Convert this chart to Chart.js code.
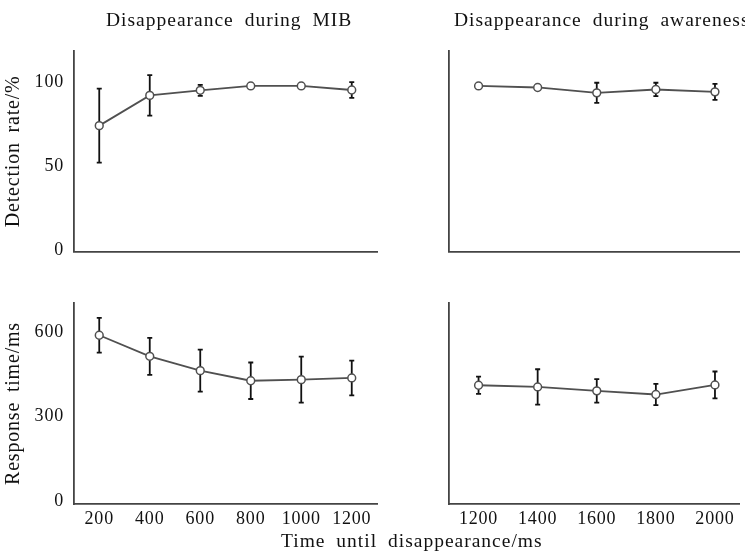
<!DOCTYPE html>
<html>
<head>
<meta charset="utf-8">
<script src="https://cdn.jsdelivr.net/npm/chart.js@4.4.1/dist/chart.umd.min.js"></script>
<style>
html, body { margin: 0; padding: 0; background: #fff; }
#wrap { position: relative; width: 745px; height: 555px; overflow: hidden; font-family: "Liberation Serif", "Times New Roman", serif; color: #111; }
.panel { position: absolute; }
.label { position: absolute; font-size: 19.5px; line-height: 19.5px; letter-spacing: 1px; word-spacing: 5px; white-space: nowrap; }
</style>
</head>
<body>
<div id="wrap">
  <div class="panel" style="left:0; top:0; width:385px; height:262px;"><canvas id="tl"></canvas></div>
  <div class="panel" style="left:385px; top:0; width:360px; height:262px;"><canvas id="tr"></canvas></div>
  <div class="panel" style="left:0; top:262px; width:385px; height:293px;"><canvas id="bl"></canvas></div>
  <div class="panel" style="left:385px; top:262px; width:360px; height:293px;"><canvas id="br"></canvas></div>
  <div class="label" style="left:106px; top:10px;">Disappearance during MIB</div>
  <div class="label" style="left:454px; top:10px;">Disappearance during awareness</div>
  <div class="label" style="left:281px; top:531px;">Time until disappearance/ms</div>
</div>
<script>
// x values (ms until disappearance)
const mibTimes = [200, 400, 600, 800, 1000, 1200];
const awareTimes = [1200, 1400, 1600, 1800, 2000];

// detection rate (%)
const mibDetection = [74, 92, 95, 97.6, 97.6, 95.2];
const mibDetectionErr = [22, 12, 3.3, 0, 0, 4.7];
const awareDetection = [97.6, 96.7, 93.5, 95.5, 94.1];
const awareDetectionErr = [0, 0, 6, 4, 4.8];

// response time (ms)
const mibResponse = [590, 515, 464, 428, 432, 438];
const mibResponseErr = [62, 66, 75, 65, 82, 62];
const awareResponse = [412, 406, 392, 379, 413];
const awareResponseErr = [31, 63, 42, 38, 48];

// tick labels
const detectionTicks = [0, 50, 100];
const responseTicks = [0, 300, 600];
const mibTicks = [200, 400, 600, 800, 1000, 1200];
const awareTicks = [1200, 1400, 1600, 1800, 2000];

const colors = {
    text: "#111111",
    axis: "#444444",
    line: "#505050",
    bar: "#111111",
};
const serif = "'Liberation Serif', 'Times New Roman', serif";

const errorBars = {
    id: "errorBars",
    beforeDatasetsDraw(chart) {
	const { ctx, scales: { x, y } } = chart;
	chart.data.datasets.forEach(ds => {
	    ctx.save();
	    ctx.strokeStyle = colors.bar;
	    ctx.lineWidth = 1.8;
	    ds.data.forEach((p, i) => {
		const e = ds.errors[i];
		if (!e) return;
		const px = x.getPixelForValue(p.x);
		const top = y.getPixelForValue(p.y + e);
		const bot = y.getPixelForValue(p.y - e);
		ctx.beginPath();
		ctx.moveTo(px, top); ctx.lineTo(px, bot);
		ctx.moveTo(px - 2.5, top); ctx.lineTo(px + 2.5, top);
		ctx.moveTo(px - 2.5, bot); ctx.lineTo(px + 2.5, bot);
		ctx.stroke();
	    });
	    ctx.restore();
	});
    }
};

const textSpacing = {
    id: "textSpacing",
    beforeDraw(chart) {
	chart.ctx.letterSpacing = "0.8px";
	chart.ctx.wordSpacing = "4px";
    }
};

// kill the extra room chart.js keeps for overflowing tick labels
function noPadding(s) {
    s.paddingTop = 0;
    s.paddingBottom = 0;
    s.paddingLeft = 0;
    s.paddingRight = 0;
}

function makePanel(id, cfg) {
    const canvas = document.getElementById(id);
    return new Chart(canvas, {
	type: "line",
	data: {
	    datasets: [{
		data: cfg.x.map((v, i) => ({ x: v, y: cfg.y[i] })),
		errors: cfg.err,
		borderColor: colors.line,
		borderWidth: 1.8,
		pointRadius: 3.9,
		pointBackgroundColor: "#ffffff",
		pointBorderColor: colors.line,
		pointBorderWidth: 1.5,
		tension: 0,
	    }]
	},
	options: {
	    responsive: true,
	    maintainAspectRatio: false,
	    animation: false,
	    layout: { padding: { top: cfg.padTop, right: cfg.padRight, left: 0, bottom: 0 } },
	    plugins: {
		legend: { display: false },
		tooltip: { enabled: false },
	    },
	    scales: {
		x: {
		    type: "linear",
		    min: cfg.xMin,
		    max: cfg.xMax,
		    grid: { display: false, drawTicks: false },
		    border: { display: true, color: colors.axis, width: 1.8 },
		    ticks: {
			display: cfg.showX, color: colors.text, padding: 4,
			font: { family: serif, size: 18 },
			callback: v => String(v),
		    },
		    afterBuildTicks: s => { s.ticks = cfg.xTicks.map(v => ({ value: v })); },
		    afterFit: s => { s.height = cfg.xHeight; noPadding(s); },
		},
		y: {
		    min: cfg.yMin,
		    max: cfg.yMax,
		    grid: { display: false, drawTicks: false },
		    border: { display: true, color: colors.axis, width: 1.8 },
		    ticks: {
			display: cfg.showY, color: colors.text, padding: 10,
			font: { family: serif, size: 18 },
			callback: v => String(v),
		    },
		    title: {
			display: !!cfg.yTitle,
			text: cfg.yTitle || "",
			color: colors.text,
			font: { family: serif, size: 20 },
			padding: { top: 2, bottom: 0 },
		    },
		    afterBuildTicks: s => { s.ticks = cfg.yTicks.map(v => ({ value: v })); },
		    afterFit: s => { s.width = cfg.yWidth; noPadding(s); },
		}
	    }
	},
	plugins: [errorBars, textSpacing]
    });
}

makePanel("tl", {
    x: mibTimes, y: mibDetection, err: mibDetectionErr,
    xMin: 100, xMax: 1300, yMin: -1, yMax: 118.4,
    xTicks: mibTicks, yTicks: detectionTicks,
    showX: false, showY: true, yTitle: "Detection rate/%",
    padTop: 51, padRight: 8, xHeight: 10.3, yWidth: 74,
});

makePanel("tr", {
    x: awareTimes, y: awareDetection, err: awareDetectionErr,
    xMin: 1100, xMax: 2083, yMin: -1, yMax: 118.4,
    xTicks: awareTicks, yTicks: detectionTicks,
    showX: false, showY: false, yTitle: null,
    padTop: 51, padRight: 0, xHeight: 10.3, yWidth: 64,
});

makePanel("bl", {
    x: mibTimes, y: mibResponse, err: mibResponseErr,
    xMin: 100, xMax: 1300, yMin: -12, yMax: 706,
    xTicks: mibTicks, yTicks: responseTicks,
    showX: true, showY: true, yTitle: "Response time/ms",
    padTop: 40.7, padRight: 8, xHeight: 50.7, yWidth: 74,
});

makePanel("br", {
    x: awareTimes, y: awareResponse, err: awareResponseErr,
    xMin: 1100, xMax: 2083, yMin: -12, yMax: 706,
    xTicks: awareTicks, yTicks: responseTicks,
    showX: true, showY: false, yTitle: null,
    padTop: 40.7, padRight: 0, xHeight: 50.7, yWidth: 64,
});
</script>
</body>
</html>
